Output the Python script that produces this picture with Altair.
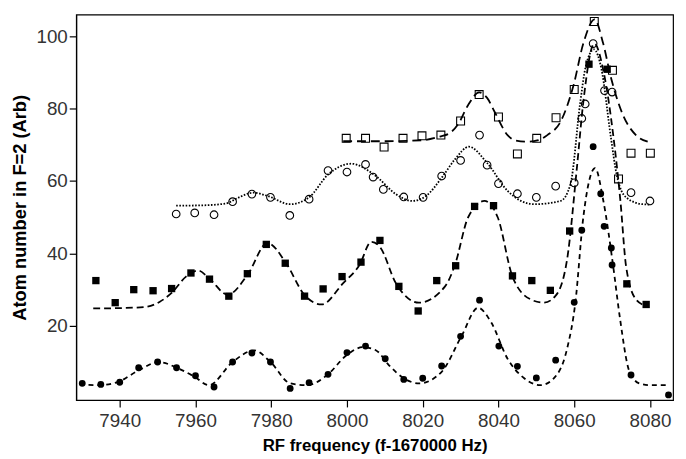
import altair as alt
import pandas as pd

# ---- data ----
# open squares
osq_x = [7999.8, 8004.9, 8009.8, 8014.8, 8019.8, 8024.8, 8030.0, 8034.9, 8040.0, 8045.0,
         8050.1, 8055.2, 8060.0, 8065.3, 8070.1, 8071.7, 8075.0, 8080.1]
osq_y = [71.8, 71.8, 69.4, 71.8, 72.5, 72.7, 76.6, 83.9, 77.7, 67.5,
         71.8, 77.5, 85.3, 104.1, 90.6, 60.6, 67.7, 67.7]

# open circles
oci_x = [7954.9, 7959.8, 7964.9, 7969.8, 7974.9, 7979.8, 7984.9, 7990.0, 7995.0, 8000.0,
         8004.9, 8006.9, 8009.6, 8015.0, 8020.1, 8025.0, 8030.0, 8035.0, 8037.0, 8040.0,
         8045.0, 8050.0, 8055.1, 8060.0, 8062.0, 8062.9, 8065.0, 8068.0, 8070.0, 8075.0, 8080.0]
oci_y = [50.9, 51.2, 50.7, 54.3, 56.4, 55.5, 50.5, 55.0, 62.9, 62.5,
         64.6, 61.1, 57.7, 55.6, 55.5, 61.4, 65.7, 72.7, 64.4, 59.3,
         56.5, 55.5, 58.6, 59.5, 77.3, 81.3, 98.0, 85.0, 84.6, 56.8, 54.5]

# filled squares
fsq_x = [7933.7, 7938.8, 7943.7, 7948.8, 7953.7, 7958.8, 7963.7, 7968.8, 7973.7, 7978.7,
         7983.7, 7988.8, 7993.7, 7998.7, 8003.7, 8008.7, 8013.7, 8018.8, 8023.7, 8028.7,
         8033.7, 8038.7, 8043.7, 8048.8, 8053.7, 8058.8, 8063.9, 8068.7, 8073.9, 8079.0]
fsq_y = [32.5, 26.4, 30.0, 29.7, 30.3, 34.6, 32.9, 28.2, 34.4, 42.5,
         37.3, 28.2, 30.2, 33.6, 37.6, 43.6, 30.9, 24.1, 32.5, 36.6,
         53.0, 53.2, 33.8, 32.5, 29.8, 46.2, 92.3, 90.9, 31.6, 25.9]

# filled circles
fci_x = [7930.1, 7935.0, 7940.0, 7945.0, 7950.0, 7955.0, 7960.0, 7964.9, 7969.8, 7974.9,
         7979.8, 7985.0, 7990.0, 7995.0, 8000.0, 8004.9, 8010.1, 8015.0, 8020.0, 8025.0,
         8030.0, 8035.0, 8040.1, 8045.0, 8050.0, 8055.1, 8060.0, 8062.0, 8065.0, 8067.0,
         8067.9, 8069.8, 8070.0, 8075.0, 8084.9]
fci_y = [4.1, 3.8, 4.4, 8.4, 10.0, 8.4, 6.2, 3.1, 10.0, 12.5,
         10.0, 2.7, 4.3, 6.6, 12.6, 14.4, 10.9, 5.2, 5.5, 8.9,
         17.1, 27.1, 14.4, 8.8, 5.6, 10.5, 26.5, 46.4, 69.5, 56.5,
         47.5, 41.5, 36.8, 6.4, 0.9]

# fitted curves
fit_osq_x = [7999.0, 8010.0, 8020.0, 8024.5, 8027.2, 8029.4, 8032.0, 8034.9, 8037.0, 8039.0,
             8042.4, 8044.6, 8047.6, 8050.5, 8052.9, 8056.4, 8059.8, 8062.4, 8065.4, 8067.6,
             8069.8, 8072.9, 8076.3, 8079.4]
fit_osq_y = [71.0, 71.0, 71.3, 72.3, 73.3, 75.8, 81.0, 84.5, 83.0, 79.1,
             72.7, 71.2, 70.9, 71.3, 72.7, 76.4, 86.4, 98.0, 104.7, 98.2,
             88.2, 78.2, 72.7, 70.9]

fit_oci_x = [7954.9, 7962.0, 7968.0, 7971.5, 7975.2, 7979.0, 7985.0, 7990.0, 7995.0, 8001.1,
             8007.6, 8012.9, 8017.2, 8021.0, 8025.0, 8028.5, 8032.2, 8037.0, 8042.4, 8049.4,
             8056.4, 8059.0, 8061.6, 8063.0, 8065.2, 8067.2, 8069.6, 8071.2, 8073.7, 8078.1,
             8080.3]
fit_oci_y = [53.2, 53.3, 53.8, 55.5, 56.8, 55.9, 53.6, 55.5, 61.8, 64.8,
             61.4, 56.4, 54.5, 56.0, 60.9, 66.0, 69.5, 65.0, 57.3, 53.6,
             54.5, 59.1, 81.8, 91.5, 96.4, 90.9, 72.7, 61.8, 55.5, 53.6,
             53.5]

fit_fsq_x = [7933.0, 7940.0, 7946.8, 7950.5, 7953.7, 7957.5, 7960.7, 7963.7, 7968.5, 7973.7,
             7979.0, 7983.7, 7988.8, 7993.3, 7999.0, 8003.3, 8006.4, 8008.7, 8012.9, 8019.0,
             8025.9, 8028.5, 8032.0, 8036.3, 8039.8, 8043.7, 8048.5, 8052.0, 8055.0, 8058.1,
             8060.7, 8062.4, 8065.3, 8067.8, 8070.3, 8072.2, 8073.7, 8076.3, 8079.0]
fit_fsq_y = [24.8, 24.9, 25.2, 26.6, 29.1, 33.6, 35.3, 33.0, 28.6, 34.0,
             42.9, 37.7, 28.5, 25.9, 31.8, 36.8, 43.2, 41.8, 31.8, 26.4,
             30.9, 36.8, 50.0, 54.5, 50.0, 33.6, 27.3, 26.4, 28.2, 38.2,
             63.6, 81.8, 98.0, 90.0, 72.7, 54.5, 36.4, 27.3, 25.5]

fit_fci_x = [7929.4, 7934.6, 7939.8, 7945.0, 7950.3, 7955.5, 7959.8, 7963.5, 7969.8, 7975.5,
             7979.8, 7985.0, 7989.4, 7995.0, 7999.8, 8004.2, 8007.7, 8011.1, 8015.0, 8019.0,
             8025.0, 8030.3, 8034.6, 8038.1, 8042.4, 8046.8, 8051.1, 8054.6, 8058.1, 8060.3,
             8062.4, 8065.5, 8067.7, 8070.3, 8072.0, 8074.6, 8077.2, 8080.0, 8085.0]
fit_fci_y = [3.8, 3.6, 4.6, 7.7, 10.0, 8.2, 5.9, 3.6, 10.0, 13.2,
             10.0, 4.1, 3.6, 6.6, 11.8, 14.1, 13.2, 9.1, 5.5, 4.1,
             7.3, 17.3, 25.0, 20.9, 10.9, 5.5, 3.6, 5.5, 13.6, 26.4,
             50.0, 63.6, 54.5, 36.4, 22.7, 7.3, 4.1, 3.6, 3.6]

x_ticks = [7940, 7960, 7980, 8000, 8020, 8040, 8060, 8080]
y_ticks = [20, 40, 60, 80, 100]

X_TITLE = "RF frequency (f-1670000 Hz)"
Y_TITLE = "Atom number in F=2 (Arb)"

xs = alt.Scale(domain=[7928.5, 8086.1], nice=False, zero=False)
ys = alt.Scale(domain=[-0.5, 106], nice=False, zero=False)


def enc_x():
    return alt.X("x:Q", scale=xs, title=X_TITLE, axis=alt.Axis(values=x_ticks, format="d"))


def enc_y():
    return alt.Y("y:Q", scale=ys, title=Y_TITLE, axis=alt.Axis(values=y_ticks))


def df(xv, yv):
    return pd.DataFrame({"x": xv, "y": yv})


def curve(xv, yv, dash, width=1.8):
    return alt.Chart(df(xv, yv)).mark_line(
        color="black", strokeDash=dash, strokeWidth=width, interpolate="monotone"
    ).encode(x=enc_x(), y=enc_y())


def pts(xv, yv, shape, filled, size):
    if filled:
        m = alt.Chart(df(xv, yv)).mark_point(shape=shape, filled=True, color="black",
                                               size=size, opacity=1)
    else:
        m = alt.Chart(df(xv, yv)).mark_point(shape=shape, filled=False, color="black",
                                               size=size, strokeWidth=1.1, opacity=1,
                                               fill="white", fillOpacity=0)
    return m.encode(x=enc_x(), y=enc_y())


layers = [
    curve(fit_osq_x, fit_osq_y, [9, 5], 1.8),
    curve(fit_oci_x, fit_oci_y, [1.6, 1.6], 1.8),
    curve(fit_fsq_x, fit_fsq_y, [7, 4], 1.8),
    curve(fit_fci_x, fit_fci_y, [5, 4], 1.8),
    pts(osq_x, osq_y, "square", False, 64),
    pts(oci_x, oci_y, "circle", False, 60),
    pts(fsq_x, fsq_y, "square", True, 55),
    pts(fci_x, fci_y, "circle", True, 48),
]

chart = alt.layer(*layers).properties(
    width=604,
    height=390,
    autosize=alt.AutoSizeParams(type="none"),
    padding={"left": 69, "top": 4, "right": 5, "bottom": 56},
).configure_view(
    stroke="black", strokeWidth=1.2
).configure_axis(
    grid=False,
    domainColor="black",
    domainWidth=1.2,
    tickColor="black",
    tickSize=7,
    tickWidth=1.2,
    labelFont="Liberation Sans",
    labelFontSize=19,
    labelColor="#333",
    titleFont="Liberation Sans",
    titleColor="black",
    titleFontWeight="bold",
).configure_axisX(
    labelPadding=5,
    titlePadding=7,
    titleFontSize=17,
).configure_axisY(
    labelPadding=2,
    titlePadding=7,
    titleFontSize=18.5,
)

chart.save("out.html", embed_options={"renderer": "svg", "actions": False})
